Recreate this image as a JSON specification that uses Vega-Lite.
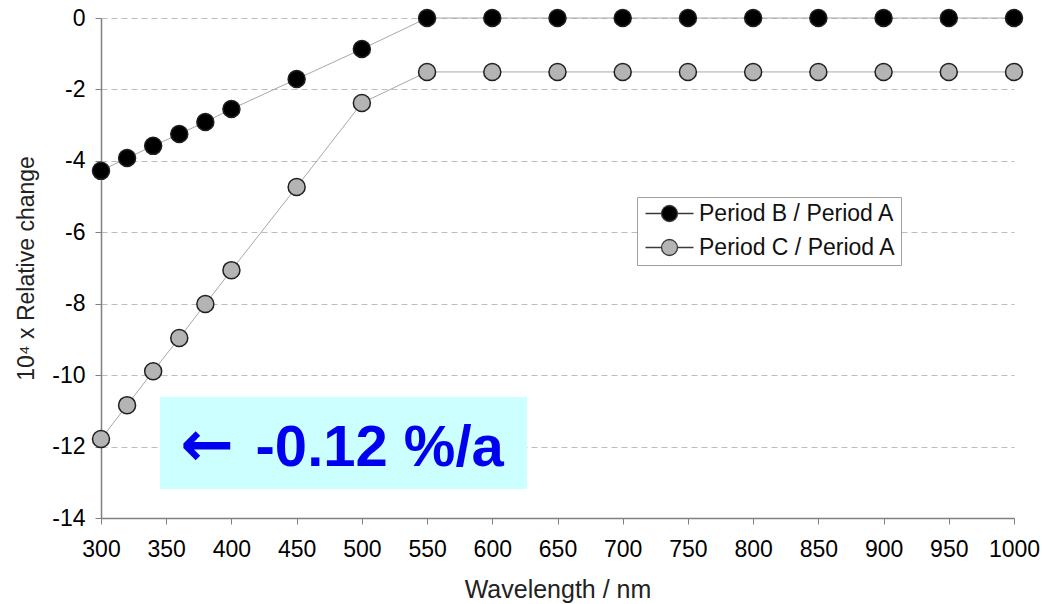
{
  "$schema": "https://vega.github.io/schema/vega-lite/v6.json",
  "width": 913,
  "height": 500,
  "autosize": {"type": "none"},
  "padding": {"left": 101, "top": 18, "right": 28, "bottom": 86},
  "background": "white",
  "config": {
    "view": {"stroke": null},
    "font": "Liberation Sans",
    "axis": {
      "labelFont": "Liberation Sans",
      "titleFont": "Liberation Sans",
      "labelFontSize": 23,
      "titleFontSize": 23,
      "labelColor": "#000",
      "titleColor": "#222",
      "titleFontWeight": "normal",
      "domainColor": "#808080",
      "domainWidth": 1.5,
      "tickColor": "#808080",
      "tickSize": 6,
      "labelOverlap": false,
      "labelFlush": false,
      "labelBound": false
    }
  },
  "datasets": {
    "series": [
      {"wavelength": 300, "value": -4.28, "series": "Period B / Period A"},
      {"wavelength": 320, "value": -3.92, "series": "Period B / Period A"},
      {"wavelength": 340, "value": -3.58, "series": "Period B / Period A"},
      {"wavelength": 360, "value": -3.25, "series": "Period B / Period A"},
      {"wavelength": 380, "value": -2.91, "series": "Period B / Period A"},
      {"wavelength": 400, "value": -2.55, "series": "Period B / Period A"},
      {"wavelength": 450, "value": -1.71, "series": "Period B / Period A"},
      {"wavelength": 500, "value": -0.87, "series": "Period B / Period A"},
      {"wavelength": 550, "value": 0, "series": "Period B / Period A"},
      {"wavelength": 600, "value": 0, "series": "Period B / Period A"},
      {"wavelength": 650, "value": 0, "series": "Period B / Period A"},
      {"wavelength": 700, "value": 0, "series": "Period B / Period A"},
      {"wavelength": 750, "value": 0, "series": "Period B / Period A"},
      {"wavelength": 800, "value": 0, "series": "Period B / Period A"},
      {"wavelength": 850, "value": 0, "series": "Period B / Period A"},
      {"wavelength": 900, "value": 0, "series": "Period B / Period A"},
      {"wavelength": 950, "value": 0, "series": "Period B / Period A"},
      {"wavelength": 1000, "value": 0, "series": "Period B / Period A"},
      {"wavelength": 300, "value": -11.79, "series": "Period C / Period A"},
      {"wavelength": 320, "value": -10.84, "series": "Period C / Period A"},
      {"wavelength": 340, "value": -9.89, "series": "Period C / Period A"},
      {"wavelength": 360, "value": -8.96, "series": "Period C / Period A"},
      {"wavelength": 380, "value": -8.01, "series": "Period C / Period A"},
      {"wavelength": 400, "value": -7.06, "series": "Period C / Period A"},
      {"wavelength": 450, "value": -4.73, "series": "Period C / Period A"},
      {"wavelength": 500, "value": -2.38, "series": "Period C / Period A"},
      {"wavelength": 550, "value": -1.51, "series": "Period C / Period A"},
      {"wavelength": 600, "value": -1.51, "series": "Period C / Period A"},
      {"wavelength": 650, "value": -1.51, "series": "Period C / Period A"},
      {"wavelength": 700, "value": -1.51, "series": "Period C / Period A"},
      {"wavelength": 750, "value": -1.51, "series": "Period C / Period A"},
      {"wavelength": 800, "value": -1.51, "series": "Period C / Period A"},
      {"wavelength": 850, "value": -1.51, "series": "Period C / Period A"},
      {"wavelength": 900, "value": -1.51, "series": "Period C / Period A"},
      {"wavelength": 950, "value": -1.51, "series": "Period C / Period A"},
      {"wavelength": 1000, "value": -1.51, "series": "Period C / Period A"}
    ],
    "note": [
      {"x1": 345.2, "x2": 626.6, "y1": -10.61, "y2": -13.19, "ax": 381.3, "ay": -12.0, "tx": 418.5, "ty": -12.54, "arrow": "←", "label": "-0.12 %/a"}
    ]
  },
  "layer": [
    {
      "data": {"name": "note"},
      "mark": {"type": "rect", "color": "#ccffff"},
      "encoding": {
        "x": {"field": "x1", "type": "quantitative"},
        "x2": {"field": "x2"},
        "y": {"field": "y1", "type": "quantitative"},
        "y2": {"field": "y2"}
      }
    },
    {
      "data": {"name": "note"},
      "mark": {"type": "text", "color": "#0000f0", "fontSize": 64, "fontWeight": "bold", "font": "DejaVu Sans", "align": "center", "baseline": "middle"},
      "encoding": {
        "x": {"field": "ax", "type": "quantitative"},
        "y": {"field": "ay", "type": "quantitative"},
        "text": {"field": "arrow"}
      }
    },
    {
      "data": {"name": "note"},
      "mark": {"type": "text", "color": "#0000f0", "fontSize": 58, "fontWeight": "bold", "font": "Liberation Sans", "align": "left", "baseline": "alphabetic"},
      "encoding": {
        "x": {"field": "tx", "type": "quantitative"},
        "y": {"field": "ty", "type": "quantitative"},
        "text": {"field": "label"}
      }
    },
    {
      "data": {"name": "series"},
      "mark": {"type": "line", "color": "#a8a8a8", "strokeWidth": 1},
      "encoding": {
        "x": {"field": "wavelength", "type": "quantitative"},
        "y": {"field": "value", "type": "quantitative"},
        "detail": {"field": "series"}
      }
    },
    {
      "data": {"name": "series"},
      "mark": {"type": "point", "filled": true, "size": 290, "stroke": "#202020", "strokeWidth": 1.5, "opacity": 1},
      "encoding": {
        "x": {
          "field": "wavelength", "type": "quantitative",
          "scale": {"domain": [300, 1000], "nice": false, "zero": false},
          "axis": {"values": [300,350,400,450,500,550,600,650,700,750,800,850,900,950,1000], "labelExpr": "'' + datum.value", "title": "Wavelength / nm", "titleFontSize": 25, "grid": false, "labelPadding": 14, "titlePadding": 16, "titleAnchor": "middle"}
        },
        "y": {
          "field": "value", "type": "quantitative",
          "scale": {"domain": [-14, 0], "nice": false, "zero": false},
          "axis": {"values": [-14,-12,-10,-8,-6,-4,-2,0], "labelExpr": "'' + datum.value", "title": "10⁴ x Relative change", "grid": true, "gridDash": [6, 4], "gridColor": "#bdbdbd", "labelPadding": 10, "titlePadding": 13}
        },
        "fill": {
          "field": "series", "type": "nominal",
          "scale": {"domain": ["Period B / Period A", "Period C / Period A"], "range": ["#000000", "#b4b4b4"]},
          "legend": {
            "title": null,
            "orient": "none",
            "legendX": 536,
            "legendY": 179,
            "labelFontSize": 23,
            "labelFont": "Liberation Sans",
            "labelColor": "#111",
            "labelLimit": 400,
            "symbolType": "M-3,0L-1,0M1,0L3,0M1,0A1,1 0 1 1 -1,0A1,1 0 1 1 1,0Z",
            "symbolSize": 256,
            "symbolOffset": 16,
            "symbolStrokeColor": "#3a3a3a",
            "symbolStrokeWidth": 1.3,
            "rowPadding": 10,
            "padding": 5,
            "strokeColor": "#a0a0a0",
            "fillColor": "white",
            "labelOffset": 18
          }
        }
      }
    }
  ]
}
